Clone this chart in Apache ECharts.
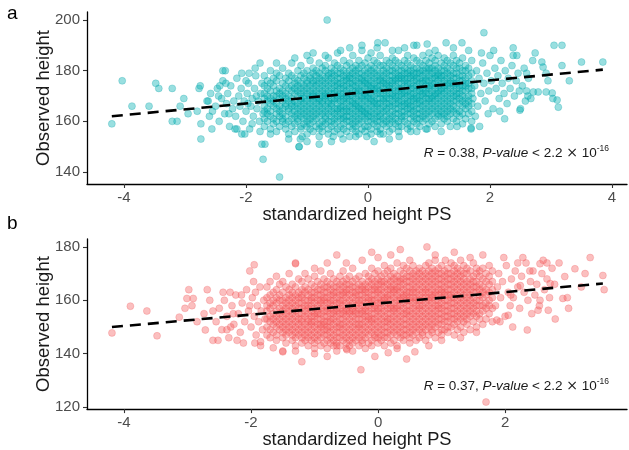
<!DOCTYPE html>
<html>
<head>
<meta charset="utf-8">
<script src="https://cdn.jsdelivr.net/npm/echarts@6/dist/echarts.min.js"></script>
<style>
  html, body { margin: 0; padding: 0; background: #fff; }
  #chart { width: 629px; height: 450px; }
</style>
</head>
<body>
<div id="chart"></div>
<script>
// ---- Panel a: male cohort (teal) ----
// dense band, one row per PS value: [ps, height, height, ...]
const bandA = [
  [-1.7,158,161,164,166,169,171,174,178],
  [-1.65,160,163,165,168,170,173,176],
  [-1.6,157,162,164,167,169,172,175,180],
  [-1.55,159,161,166,168,170,174,177],
  [-1.5,156,160,163,165,167,170,172,176,179],
  [-1.45,158,162,164,166,169,171,173,178],
  [-1.4,160,161,163,165,168,170,172,175,181],
  [-1.35,157,159,162,166,167,169,171,174,177],
  [-1.3,155,160,164,165,168,170,173,176,179],
  [-1.25,158,161,163,166,167,169,172,174,178,183],
  [-1.2,156,159,162,164,166,168,171,173,175,177],
  [-1.15,160,161,163,165,167,170,172,174,176,180],
  [-1.1,157,158,162,164,166,168,169,171,173,175,178,182],
  [-1.05,159,161,163,165,167,169,170,172,174,177,179],
  [-1.0,155,158,160,162,164,166,168,171,173,175,176,180],
  [-0.95,157,159,161,163,165,167,169,170,172,174,177,178,184],
  [-0.9,156,160,162,164,166,168,170,171,173,175,176,179,181],
  [-0.85,158,161,163,165,167,169,170,172,174,176,178,180],
  [-0.8,154,157,159,162,164,166,168,169,171,173,175,177,179,183],
  [-0.75,156,158,160,163,165,167,168,170,172,174,176,178,181],
  [-0.7,159,161,162,164,166,169,170,171,173,175,177,180,182],
  [-0.65,155,157,160,163,165,167,168,170,172,174,176,178,179,185],
  [-0.6,158,160,162,164,166,167,169,171,173,175,177,179,181],
  [-0.55,156,159,161,163,165,168,169,171,172,174,176,178,180,183],
  [-0.5,157,160,162,164,165,167,169,170,172,174,175,177,179,182,187],
  [-0.45,155,158,161,163,165,166,168,170,171,173,175,177,179,181],
  [-0.4,157,159,161,162,164,166,168,169,171,173,174,176,178,180,184],
  [-0.35,156,160,162,164,165,167,169,170,172,174,176,177,179,182],
  [-0.3,154,158,160,162,164,166,168,170,171,173,175,177,178,180,183],
  [-0.25,157,159,161,163,165,167,168,170,172,174,175,177,179,181,186],
  [-0.2,156,158,160,162,164,166,167,169,171,172,174,176,178,180,182],
  [-0.15,155,159,161,163,165,166,168,170,172,173,175,177,179,181,184],
  [-0.1,157,160,162,164,165,167,169,170,172,174,176,177,179,182,188],
  [-0.05,156,158,161,163,164,166,168,170,171,173,175,176,178,180,183],
  [0,158,160,162,163,165,167,169,170,172,174,175,177,179,181,185],
  [0.05,155,157,160,162,164,166,168,169,171,173,174,176,178,180,182],
  [0.1,159,161,163,165,167,168,170,172,173,175,177,179,181,184],
  [0.15,156,158,160,162,164,166,167,169,171,173,174,176,178,180,183,189],
  [0.2,157,160,162,163,165,167,169,171,172,174,176,177,179,182,186],
  [0.25,155,159,161,164,166,168,169,171,173,175,176,178,180,182],
  [0.3,158,160,162,164,165,167,169,170,172,174,175,177,179,181,184],
  [0.35,156,159,161,163,166,167,169,171,173,174,176,178,180,183],
  [0.4,157,160,162,164,166,168,170,171,173,175,176,178,180,182,185],
  [0.45,159,161,163,165,167,169,170,172,174,176,177,179,181,184],
  [0.5,156,158,160,163,165,167,168,170,172,173,175,177,178,180,183,188],
  [0.55,158,161,162,164,166,168,170,171,173,175,177,178,180,182],
  [0.6,160,162,164,166,167,169,171,172,174,176,177,179,181,184],
  [0.65,157,159,163,165,167,168,170,172,174,175,177,179,180,183,186],
  [0.7,158,161,163,165,166,168,170,171,173,175,177,178,180,182],
  [0.75,160,162,164,166,168,169,171,173,174,176,178,179,181,185],
  [0.8,156,159,161,163,165,167,169,170,172,174,176,177,179,181,184,190],
  [0.85,158,161,163,165,167,168,170,172,173,175,177,179,180,183],
  [0.9,160,162,164,166,168,170,171,173,175,176,178,180,182,186],
  [0.95,157,161,163,165,167,169,171,172,174,176,177,179,181,184],
  [1.0,159,162,164,166,168,169,171,173,174,176,178,180,181,183,187],
  [1.05,160,163,165,167,169,170,172,174,175,177,179,181,185],
  [1.1,158,161,164,166,168,170,171,173,175,177,178,180,182,184],
  [1.15,162,163,165,167,169,171,172,174,176,178,179,181,186],
  [1.2,159,162,164,166,168,170,172,173,175,177,178,180,183],
  [1.25,161,163,165,167,169,171,173,174,176,178,180,182,185],
  [1.3,160,162,164,166,168,170,172,174,175,177,179,181,184],
  [1.35,158,163,165,167,169,171,173,175,176,178,180,183],
  [1.4,161,164,166,168,170,172,174,175,177,179,182,186],
  [1.45,160,163,165,168,170,171,173,175,177,179,181,184],
  [1.5,162,164,167,169,171,173,174,176,178,181,183],
  [1.55,159,163,166,168,170,172,174,176,178,180,185],
  [1.6,161,165,167,169,172,174,175,177,180,182],
  [1.65,163,166,168,170,173,175,178,181],
  [1.7,160,164,167,171,173,176,179,184]
];
// individual points around the band: [ps, height]
const spreadA = [
  [-2.62,168],[-2.58,171],[-2.55,164],[-2.5,166],[-2.47,173],[-2.44,160],[-2.4,169],[-2.38,176],
  [-2.35,163],[-2.32,167],[-2.3,171],[-2.27,158],[-2.25,174],[-2.22,165],[-2.2,168],[-2.17,162],
  [-2.15,177],[-2.12,170],[-2.1,166],[-2.08,173],[-2.05,160],[-2.03,168],[-2.0,164],[-1.98,171],
  [-1.96,175],[-1.94,157],[-1.92,166],[-1.9,169],[-1.88,162],[-1.86,173],[-1.84,178],[-1.82,165],
  [-1.8,168],[-1.78,160],[-1.76,171],[-1.74,175],[-1.72,163],[-1.9,159],[-2.18,157],[-1.95,179],
  [-2.45,170],[-2.6,162],[-2.33,175],[-1.85,181],[-1.77,156],[-2.07,155],[-2.28,163],[-2.0,176],
  [-1.83,170],[-1.97,167],
  [1.72,169],[1.75,174],[1.78,180],[1.8,166],[1.82,177],[1.85,171],[1.88,183],[1.9,175],
  [1.92,168],[1.95,179],[1.98,172],[2.0,186],[2.02,176],[2.05,165],[2.08,181],[2.1,173],
  [2.13,178],[2.15,169],[2.18,184],[2.2,175],[2.23,171],[2.25,180],[2.28,167],[2.3,177],
  [2.33,173],[2.36,182],[2.4,170],[2.43,176],[2.46,179],[2.5,165],[2.53,174],[2.56,181],
  [2.6,172],[2.63,177],[2.67,169],[2.7,184],[1.76,162],[1.86,187],[1.97,163],[2.06,188],
  [2.16,164],[2.38,186],[1.83,158],[2.24,161],[2.48,172],[2.58,168],
  [-1.5,183],[-1.2,185],[-0.9,187],[-0.7,186],[-0.45,188],[-0.3,189],[-0.1,190],[0.16,191],
  [0.28,191],[0.4,188],[0.6,189],[0.75,190],[0.97,190.5],[1.1,188],[1.28,191],[1.4,189],
  [1.54,191],[1.65,188],[-1.0,186],[0.05,187],
  [-1.6,155],[-1.3,153],[-1.0,152],[-0.8,151],[-0.57,154],[-0.41,153],[-0.2,154],[-0.02,154],
  [0.2,155],[0.35,153],[0.51,154],[0.7,156],[0.97,157],[1.2,156],[1.46,158],[1.69,157],
  [-1.13,150],[-1.08,154],[-0.6,152],[0.1,152]
];
const tailA = [
  [-4.2,159],[-4.03,176],[-3.87,166],[-3.59,166],[-3.48,175],[-3.43,173],[-3.21,173],[-3.21,160],
  [-3.13,160],[-3.08,166],[-3.02,169],[-2.95,163],[-2.8,164],[-2.77,173],[-2.75,174],[-2.74,153],
  [-2.74,159],[-2.64,168],[-2.56,157],[-2.43,174],[-2.38,180],[-2.34,180],[-2.15,157],[-2.07,179],
  [-2.02,155],[-1.77,183],[-1.74,151],[-1.69,151],[-1.72,145],[-1.45,138],[-1.13,150],[-1.11,153],
  [-0.67,200],[1.9,195],[3.05,190],[3.18,190],[3.85,183.4],[3.5,183.4],[3.18,182],[3.1,168.4],
  [3.12,165.6],[2.49,164.4],[2.62,170],[1.69,157.4],[2.92,179],[3.02,171.2],[3.03,169],
  [2.71,171.6],[2.6,179],[2.74,187],[2.44,186],[2.38,189],[2.87,181.4],[2.79,171.6],
  [2.92,171.6],[2.85,183.4],[2.95,176],[3.3,176]
];
const fitA = [[-4.2, 162.0], [3.85, 180.4]];
const xTicksA = [-4, -2, 0, 2, 4];
const yTicksA = [140, 160, 180, 200];

// ---- Panel b: female cohort (red) ----
const bandB = [
  [-1.75,147,150,153,156,158,161,165],
  [-1.7,146,149,152,154,157,159,162,167],
  [-1.65,148,151,153,155,158,160,163],
  [-1.6,145,147,150,152,154,156,159,161,164,169],
  [-1.55,149,151,153,155,157,160,162,166],
  [-1.5,146,148,150,152,154,156,158,160,163,167],
  [-1.45,144,147,149,151,153,155,157,159,161,165],
  [-1.4,148,150,152,154,156,158,160,162,164,170],
  [-1.35,145,147,149,151,153,155,157,159,161,163,166],
  [-1.3,143,146,148,150,152,154,156,158,160,162,165],
  [-1.25,147,149,151,153,155,157,159,161,163,168],
  [-1.2,144,146,148,150,152,153,155,157,159,161,162,164,167],
  [-1.15,145,147,149,151,154,156,158,160,163,165,170],
  [-1.1,143,146,148,150,152,153,155,157,158,160,162,164,168],
  [-1.05,145,147,149,151,152,154,156,158,160,161,163,166],
  [-1.0,142,144,146,148,150,152,154,155,157,159,161,163,165,169],
  [-0.95,145,147,149,151,153,155,156,158,160,162,164,167],
  [-0.9,143,146,148,150,151,153,155,157,159,160,162,164,166,171],
  [-0.85,144,147,149,151,152,154,156,158,160,161,163,165,168],
  [-0.8,142,145,147,149,150,152,154,156,157,159,161,163,165,167],
  [-0.75,144,146,148,150,152,153,155,157,159,160,162,164,166,170],
  [-0.7,143,145,147,149,151,153,155,156,158,160,162,163,165,168],
  [-0.65,141,144,146,148,150,152,154,156,157,159,161,163,165,167],
  [-0.6,143,146,148,150,151,153,155,157,159,160,162,164,166,169],
  [-0.55,145,147,149,151,153,155,156,158,160,162,163,165,167,171],
  [-0.5,142,144,146,148,150,152,154,156,157,159,161,163,164,166,168],
  [-0.45,143,145,147,149,151,153,155,156,158,160,162,164,166,169],
  [-0.4,141,144,146,148,150,152,154,156,157,159,161,163,165,167,172],
  [-0.35,145,147,149,151,153,155,156,158,160,162,163,165,168],
  [-0.3,143,146,148,150,151,153,155,157,159,160,162,164,166,169],
  [-0.25,144,145,147,149,151,153,155,156,158,160,162,164,165,167],
  [-0.2,142,146,148,150,152,154,156,157,159,161,163,164,166,170],
  [-0.15,144,147,149,151,153,154,156,158,160,161,163,165,167,169],
  [-0.1,143,145,148,150,152,153,155,157,159,160,162,164,166,168,172],
  [-0.05,146,147,149,151,153,155,157,158,160,162,164,165,167,170],
  [0,144,146,148,150,152,154,156,157,159,161,163,164,166,168,171],
  [0.05,145,147,149,151,153,155,157,159,160,162,164,166,167,169],
  [0.1,143,146,148,150,152,154,156,158,160,161,163,165,167,170,173],
  [0.15,146,148,150,152,153,155,157,159,161,162,164,166,168,171],
  [0.2,144,147,149,151,153,155,157,158,160,162,164,165,167,169,172],
  [0.25,145,148,150,152,154,156,157,159,161,163,164,166,168,170],
  [0.3,143,147,149,151,153,155,157,158,160,162,164,165,167,169,174],
  [0.35,146,148,150,152,154,156,158,160,161,163,165,167,168,171],
  [0.4,145,147,149,151,153,155,157,159,161,162,164,166,168,170,173],
  [0.45,147,149,151,153,155,156,158,160,162,163,165,167,169,172],
  [0.5,144,146,148,150,152,154,156,158,160,161,163,165,167,169,171],
  [0.55,147,149,151,153,155,157,159,161,163,164,166,168,170,173],
  [0.6,145,148,150,152,154,156,158,160,161,163,165,167,169,171],
  [0.65,146,149,151,153,155,157,158,160,162,164,166,168,170,172],
  [0.7,147,148,150,152,154,156,158,160,161,163,165,167,169,171],
  [0.75,145,149,151,153,155,157,159,161,163,164,166,168,170,173],
  [0.8,147,150,152,154,156,158,160,161,163,165,167,169,171,174],
  [0.85,148,149,151,153,155,157,159,161,162,164,166,168,170,172],
  [0.9,146,150,152,154,156,158,160,162,163,165,167,169,171,175],
  [0.95,148,151,153,155,157,158,160,162,164,166,168,170,172],
  [1.0,147,149,151,153,155,157,159,161,163,164,166,168,170,173],
  [1.05,149,152,154,156,158,160,162,163,165,167,169,171],
  [1.1,148,150,152,154,156,158,160,162,164,166,168,170,172],
  [1.15,150,153,155,157,159,161,162,164,166,168,170,174],
  [1.2,147,151,153,155,157,159,161,163,165,167,169,171,173],
  [1.25,149,152,154,156,158,160,162,164,166,168,170,172],
  [1.3,150,153,155,157,159,161,163,165,167,169,171,175],
  [1.35,148,152,154,156,158,160,162,164,166,168,170,173],
  [1.4,151,153,155,157,159,161,163,165,167,170,172],
  [1.45,149,154,156,158,160,162,164,166,168,171],
  [1.5,152,155,157,159,161,163,165,167,169],
  [1.55,150,154,156,158,160,163,165,167,170,172],
  [1.6,153,155,158,160,162,164,166,169,171],
  [1.65,151,156,158,161,163,165,168,172],
  [1.7,153,157,159,162,164,167,170],
  [1.75,155,158,160,163,166,169,173],
  [1.8,152,157,161,164,167,171]
];
const spreadB = [
  [-2.55,152],[-2.5,157],[-2.46,149],[-2.42,160],[-2.38,154],[-2.35,146],[-2.3,158],[-2.27,151],
  [-2.24,162],[-2.2,155],[-2.17,148],[-2.14,159],[-2.1,152],[-2.07,164],[-2.04,156],[-2.0,150],
  [-1.98,161],[-1.95,154],[-1.92,147],[-1.9,158],[-1.88,152],[-1.86,165],[-1.84,156],[-1.82,149],
  [-1.8,160],[-2.22,145],[-2.44,163],[-1.96,167],[-2.12,144],[-1.85,143],[-2.6,156],[-2.32,150],
  [-2.02,158],[-1.78,153],[-2.15,162],[-1.93,163],[-2.28,155],
  [1.85,158],[1.88,165],[1.9,170],[1.93,161],[1.96,167],[2.0,154],[2.02,173],[2.05,163],
  [2.08,158],[2.1,168],[2.13,161],[2.16,171],[2.2,165],[2.23,157],[2.26,169],[2.3,163],
  [2.33,174],[2.36,160],[2.4,167],[2.44,171],[2.47,162],[2.5,166],[2.54,158],[2.58,170],
  [2.62,164],[2.66,168],[2.7,161],[2.74,172],[2.78,166],[1.92,152],[1.98,176],[2.12,150],
  [2.28,176],[2.42,155],[2.6,175],
  [-1.3,174],[-1.0,172],[-0.8,174],[-0.65,177],[-0.5,174],[-0.25,175],[0.0,176],[0.2,177],
  [0.5,175],[0.77,180],[1.06,175],[1.2,178],[1.45,176],[1.5,174],[1.65,177],[-0.1,178],
  [0.35,179],[0.9,177],
  [-1.5,141],[-1.3,141],[-1.0,140],[-0.65,143],[-0.49,141.5],[-0.05,139],[0.16,140.4],[0.3,142],
  [0.58,140.7],[0.8,143],[1.0,145],[1.3,146],[1.55,148],[1.87,152.6],[-0.8,139],[0.45,138]
];
const tailB = [
  [-4.19,147.8],[-3.9,157.8],[-3.64,156],[-3.48,146.7],[-3.13,153.7],[-3.04,157],[-2.98,164],
  [-3.01,160.7],[-2.91,160.7],[-2.93,158],[-2.85,152],[-2.69,164],[-2.65,160],[-2.74,155],
  [-2.72,148.9],[-2.6,145],[-2.52,145],[-2.38,149],[-2.33,163],[-2.02,171],[-1.95,173.3],
  [-1.94,144],[-1.85,144.5],[-1.65,142.2],[-1.5,140.7],[-1.3,173.7],[-1.2,137],[-0.27,134],
  [1.7,121.9],[2.35,148.9],[2.79,153],[3.34,176],[3.54,169.3],[3.56,164],[3.26,170],[3.1,171.8],
  [2.94,168.9],[2.98,161],[3.0,157],[2.66,174],[2.55,173.7],[2.2,174],[2.39,171],[2.55,160],
  [2.52,156.3],[2.68,156.3],[2.71,166.3],[2.91,160.7],[2.09,162],[2.24,165.5],[2.05,154.4],
  [3.2,165],[2.85,174]
];
const fitB = [[-4.19, 150.0], [3.54, 166.3]];
const xTicksB = [-4, -2, 0, 2];
const yTicksB = [120, 140, 160, 180];

const statA = { r: '0.38', p: '2.2', exp: '-16' };
const statB = { r: '0.37', p: '2.2', exp: '-16' };

// turn [ps, h1, h2, ...] rows into [ps, h] points
function unfold(rows) {
  const out = [];
  rows.forEach(function (row) {
    for (let i = 1; i < row.length; i++) out.push([row[0], row[i]]);
  });
  return out;
}

const ink = '#000';
const tickText = '#4D4D4D';
const font = 'Liberation Sans, Arial, sans-serif';

function xAxisFor(grid, min, max, ticks) {
  return {
    type: 'value', gridIndex: grid, min: min, max: max,
    name: 'standardized height PS', nameLocation: 'middle', nameGap: 18,
    nameTextStyle: { fontSize: 18.3, color: '#1a1a1a', fontFamily: font },
    axisLine: { show: true, onZero: false, lineStyle: { color: ink, width: 1.3 } },
    axisTick: { show: true, length: 4, customValues: ticks, lineStyle: { color: '#333', width: 1.1 } },
    axisLabel: { customValues: ticks, fontSize: 15, color: tickText, fontFamily: font, margin: 6 },
    splitLine: { show: false }
  };
}
function yAxisFor(grid, min, max, ticks) {
  return {
    type: 'value', gridIndex: grid, min: min, max: max,
    name: 'Observed height', nameLocation: 'middle', nameGap: 34, nameMoveOverlap: false,
    nameTextStyle: { fontSize: 18.5, color: '#1a1a1a', fontFamily: font },
    axisLine: { show: true, onZero: false, lineStyle: { color: ink, width: 1.3 } },
    axisTick: { show: true, length: 4, customValues: ticks, lineStyle: { color: '#333', width: 1.1 } },
    axisLabel: { customValues: ticks, fontSize: 15, color: tickText, fontFamily: font, margin: 7 },
    splitLine: { show: false }
  };
}

function pointSeries(idx, data, fill, edge) {
  return {
    type: 'scatter', xAxisIndex: idx, yAxisIndex: idx, data: data,
    symbol: 'circle', symbolSize: 7, silent: true, z: 2,
    itemStyle: { color: fill, borderColor: edge, borderWidth: 0.6 }
  };
}
function fitSeries(idx, data) {
  return {
    type: 'line', xAxisIndex: idx, yAxisIndex: idx, data: data,
    symbol: 'none', silent: true, z: 5,
    lineStyle: { color: '#000', width: 2.6, type: [11, 7] }
  };
}
function statText(s) {
  return '{i|R} = ' + s.r + ', {i|P-value} < ' + s.p + ' {m|×} 10{s|' + s.exp + '}';
}
const statRich = {
  i: { fontStyle: 'italic', fontSize: 13.5, fontFamily: font, color: '#1a1a1a', lineHeight: 18 },
  m: { fontSize: 14, fontFamily: 'DejaVu Sans, sans-serif', color: '#555', lineHeight: 18 },
  s: { fontSize: 8.5, fontFamily: font, color: '#1a1a1a', verticalAlign: 'top', lineHeight: 18 }
};

const teal = 'rgba(0,174,178,0.5)';
const tealEdge = 'rgba(0,160,166,0.55)';
const coral = 'rgba(246,94,96,0.5)';
const coralEdge = 'rgba(238,86,88,0.55)';

const chart = echarts.init(document.getElementById('chart'), null, { renderer: 'canvas' });
chart.setOption({
  animation: false,
  backgroundColor: '#fff',
  grid: [
    { left: 87, top: 12, width: 540, height: 172 },
    { left: 87, top: 239, width: 540, height: 172 }
  ],
  xAxis: [xAxisFor(0, -4.607, 4.246, xTicksA), xAxisFor(1, -4.583, 3.92, xTicksB)],
  yAxis: [yAxisFor(0, 135.26, 203.16, yTicksA), yAxisFor(1, 119.26, 182.96, yTicksB)],
  series: [
    pointSeries(0, unfold(bandA).concat(spreadA, tailA), teal, tealEdge),
    fitSeries(0, fitA),
    pointSeries(1, unfold(bandB).concat(spreadB, tailB), coral, coralEdge),
    fitSeries(1, fitB)
  ],
  graphic: [
    { type: 'text', left: 7, top: 4, style: { text: 'a', fontSize: 19, fontFamily: font, fill: '#000' } },
    { type: 'text', left: 7, top: 214, style: { text: 'b', fontSize: 19, fontFamily: font, fill: '#000' } },
    { type: 'text', right: 20, top: 144, style: {
        text: statText(statA), rich: statRich, fontSize: 13.5, fontFamily: font, fill: '#1a1a1a', lineHeight: 18 } },
    { type: 'text', right: 20, top: 377, style: {
        text: statText(statB), rich: statRich, fontSize: 13.5, fontFamily: font, fill: '#1a1a1a', lineHeight: 18 } }
  ]
});
</script>
</body>
</html>
